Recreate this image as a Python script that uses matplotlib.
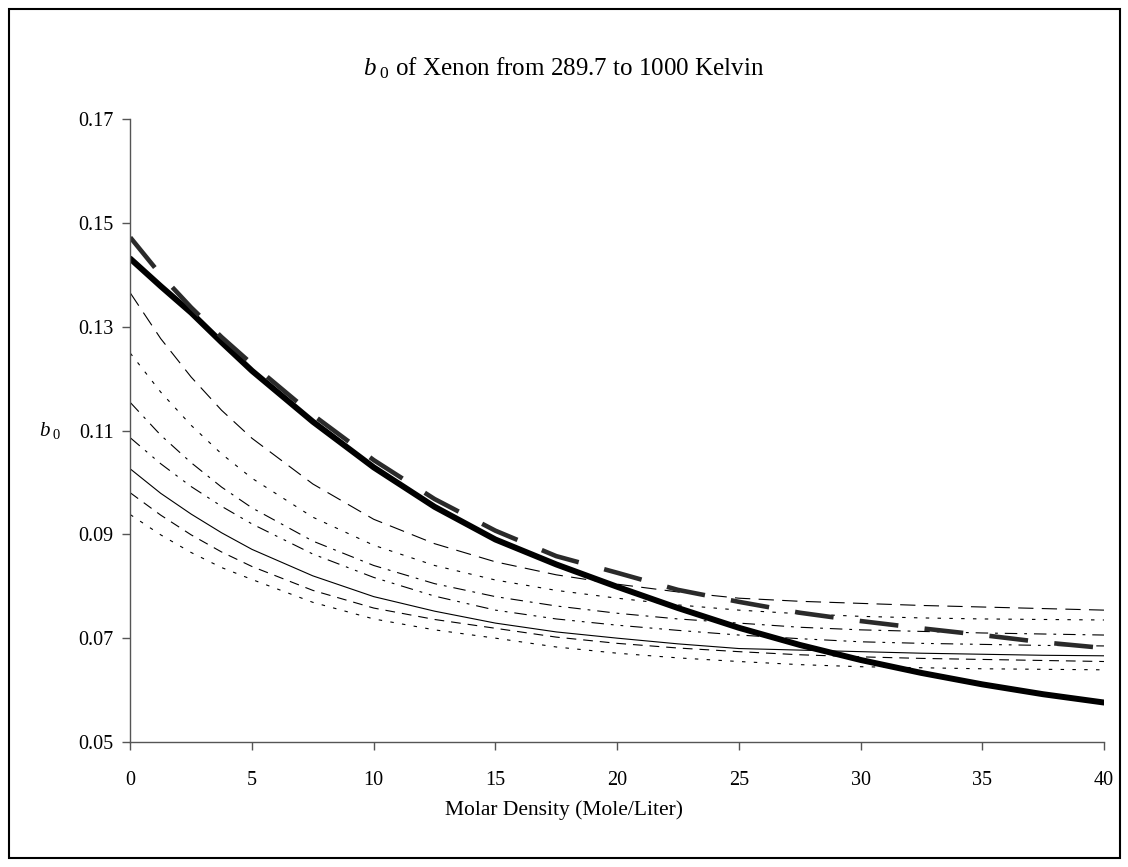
import matplotlib
matplotlib.use("Agg")
from matplotlib import pyplot as plt
from matplotlib.patches import Rectangle

plt.rcParams['font.family'] = ['Liberation Serif', 'DejaVu Serif']
plt.rcParams['mathtext.fontset'] = 'custom'
plt.rcParams['mathtext.rm'] = 'Liberation Serif'
plt.rcParams['mathtext.it'] = 'Liberation Serif:italic'
plt.rcParams['lines.scale_dashes'] = False

# molar density (mole/liter)
density = [0, 1.25, 2.5, 3.75, 5, 7.5, 10, 12.5, 15, 17.5, 20, 22.5, 25, 27.5, 30, 32.5, 35, 37.5, 40]

# b0 curves (top to bottom at zero density)
b0_thick_dashed = [0.1472, 0.1400, 0.1337, 0.1280, 0.1228, 0.1130, 0.1043, 0.0968, 0.0907, 0.0858,
                   0.0826, 0.0793, 0.0770, 0.0749, 0.0733, 0.0719, 0.0706, 0.0692, 0.0681]
b0_thick_solid = [0.1431, 0.1378, 0.1327, 0.1270, 0.1215, 0.1117, 0.1029, 0.0953, 0.0890, 0.0842,
                  0.0799, 0.0758, 0.0720, 0.0687, 0.0658, 0.0633, 0.0611, 0.0592, 0.0576]
b0_long_dash = [0.1365, 0.1277, 0.1203, 0.1139, 0.1085, 0.0997, 0.0929, 0.0882, 0.0847, 0.0822,
                0.0804, 0.0789, 0.0777, 0.0771, 0.0767, 0.0763, 0.0760, 0.0757, 0.0754]
b0_dotted_a = [0.1249, 0.1174, 0.1110, 0.1055, 0.1008, 0.0933, 0.0879, 0.0840, 0.0812, 0.0792,
               0.0777, 0.0764, 0.0754, 0.0747, 0.0742, 0.0739, 0.0737, 0.0736, 0.0735]
b0_dash_dot = [0.1154, 0.1091, 0.1038, 0.0991, 0.0951, 0.0887, 0.0840, 0.0805, 0.0780, 0.0762,
               0.0748, 0.0737, 0.0729, 0.0721, 0.0716, 0.0713, 0.0710, 0.0708, 0.0706]
b0_dash_dot_dot = [0.1086, 0.1036, 0.0992, 0.0954, 0.0920, 0.0862, 0.0817, 0.0781, 0.0754, 0.0737,
                   0.0725, 0.0715, 0.0706, 0.0699, 0.0693, 0.0690, 0.0688, 0.0686, 0.0685]
b0_solid = [0.1026, 0.0979, 0.0939, 0.0903, 0.0871, 0.0820, 0.0780, 0.0752, 0.0729, 0.0712,
            0.0700, 0.0689, 0.0680, 0.0677, 0.0674, 0.0671, 0.0669, 0.0667, 0.0666]
b0_dash = [0.0980, 0.0937, 0.0899, 0.0866, 0.0838, 0.0792, 0.0758, 0.0736, 0.0719, 0.0702,
           0.0690, 0.0681, 0.0674, 0.0668, 0.0664, 0.0661, 0.0659, 0.0657, 0.0655]
b0_dotted_b = [0.0938, 0.0899, 0.0865, 0.0836, 0.0813, 0.0769, 0.0737, 0.0716, 0.0700, 0.0683,
               0.0671, 0.0662, 0.0655, 0.0649, 0.0645, 0.0643, 0.0641, 0.0640, 0.0639]

y_ticks = [0.05, 0.07, 0.09, 0.11, 0.13, 0.15, 0.17]
x_ticks = [0, 5, 10, 15, 20, 25, 30, 35, 40]

fig = plt.figure(figsize=(11.28, 8.67), dpi=100)
fig.patch.set_facecolor('white')
fig.add_artist(Rectangle((9 / 1128, 9 / 867), 1111 / 1128, 849 / 867, transform=fig.transFigure,
                         fill=False, edgecolor='black', linewidth=1.5))

ax = fig.add_axes([0.1155, 0.1442, 0.8632, 0.7185])

thin = 0.8
ax.plot(density, b0_dotted_b, color='black', lw=thin, dashes=(2.5, 6))
ax.plot(density, b0_dash, color='black', lw=thin, dashes=(7, 5))
ax.plot(density, b0_solid, color='black', lw=thin)
ax.plot(density, b0_dash_dot_dot, color='black', lw=thin, dashes=(9, 5, 2, 5, 2, 5))
ax.plot(density, b0_dash_dot, color='black', lw=thin, dashes=(9, 5, 2, 5))
ax.plot(density, b0_dotted_a, color='black', lw=thin, dashes=(2.5, 6))
ax.plot(density, b0_long_dash, color='black', lw=thin, dashes=(11, 6))
ax.plot(density, b0_thick_solid, color='black', lw=4.3, solid_capstyle='round')
ax.plot(density, b0_thick_dashed, color='#2a2a2a', lw=3.3, dashes=(28, 19))

ax.set_xlim(0, 40)
ax.set_ylim(0.05, 0.17)
ax.set_xticks(x_ticks)
ax.set_yticks(y_ticks)
ax.set_yticklabels([f"{v:.2f}" for v in y_ticks])
for side in ['top', 'right']:
    ax.spines[side].set_visible(False)
for side in ['left', 'bottom']:
    ax.spines[side].set_color('#555555')
    ax.spines[side].set_linewidth(1.0)
ax.tick_params(direction='out', length=6, width=1.0, color='#555555', labelsize=14.5, pad=6)
ax.tick_params(axis='x', pad=15)

fig.text(0.5, 0.921, r"$b_{\ 0}$ of Xenon from 289.7 to 1000 Kelvin", ha='center', va='center', fontsize=18)
fig.text(0.5, 0.066, "Molar Density (Mole/Liter)", ha='center', va='center', fontsize=15.5)
fig.text(0.045, 0.503, r"$b_{\ 0}$", ha='center', va='center', fontsize=15)

fig.savefig("out.png", dpi=100)
